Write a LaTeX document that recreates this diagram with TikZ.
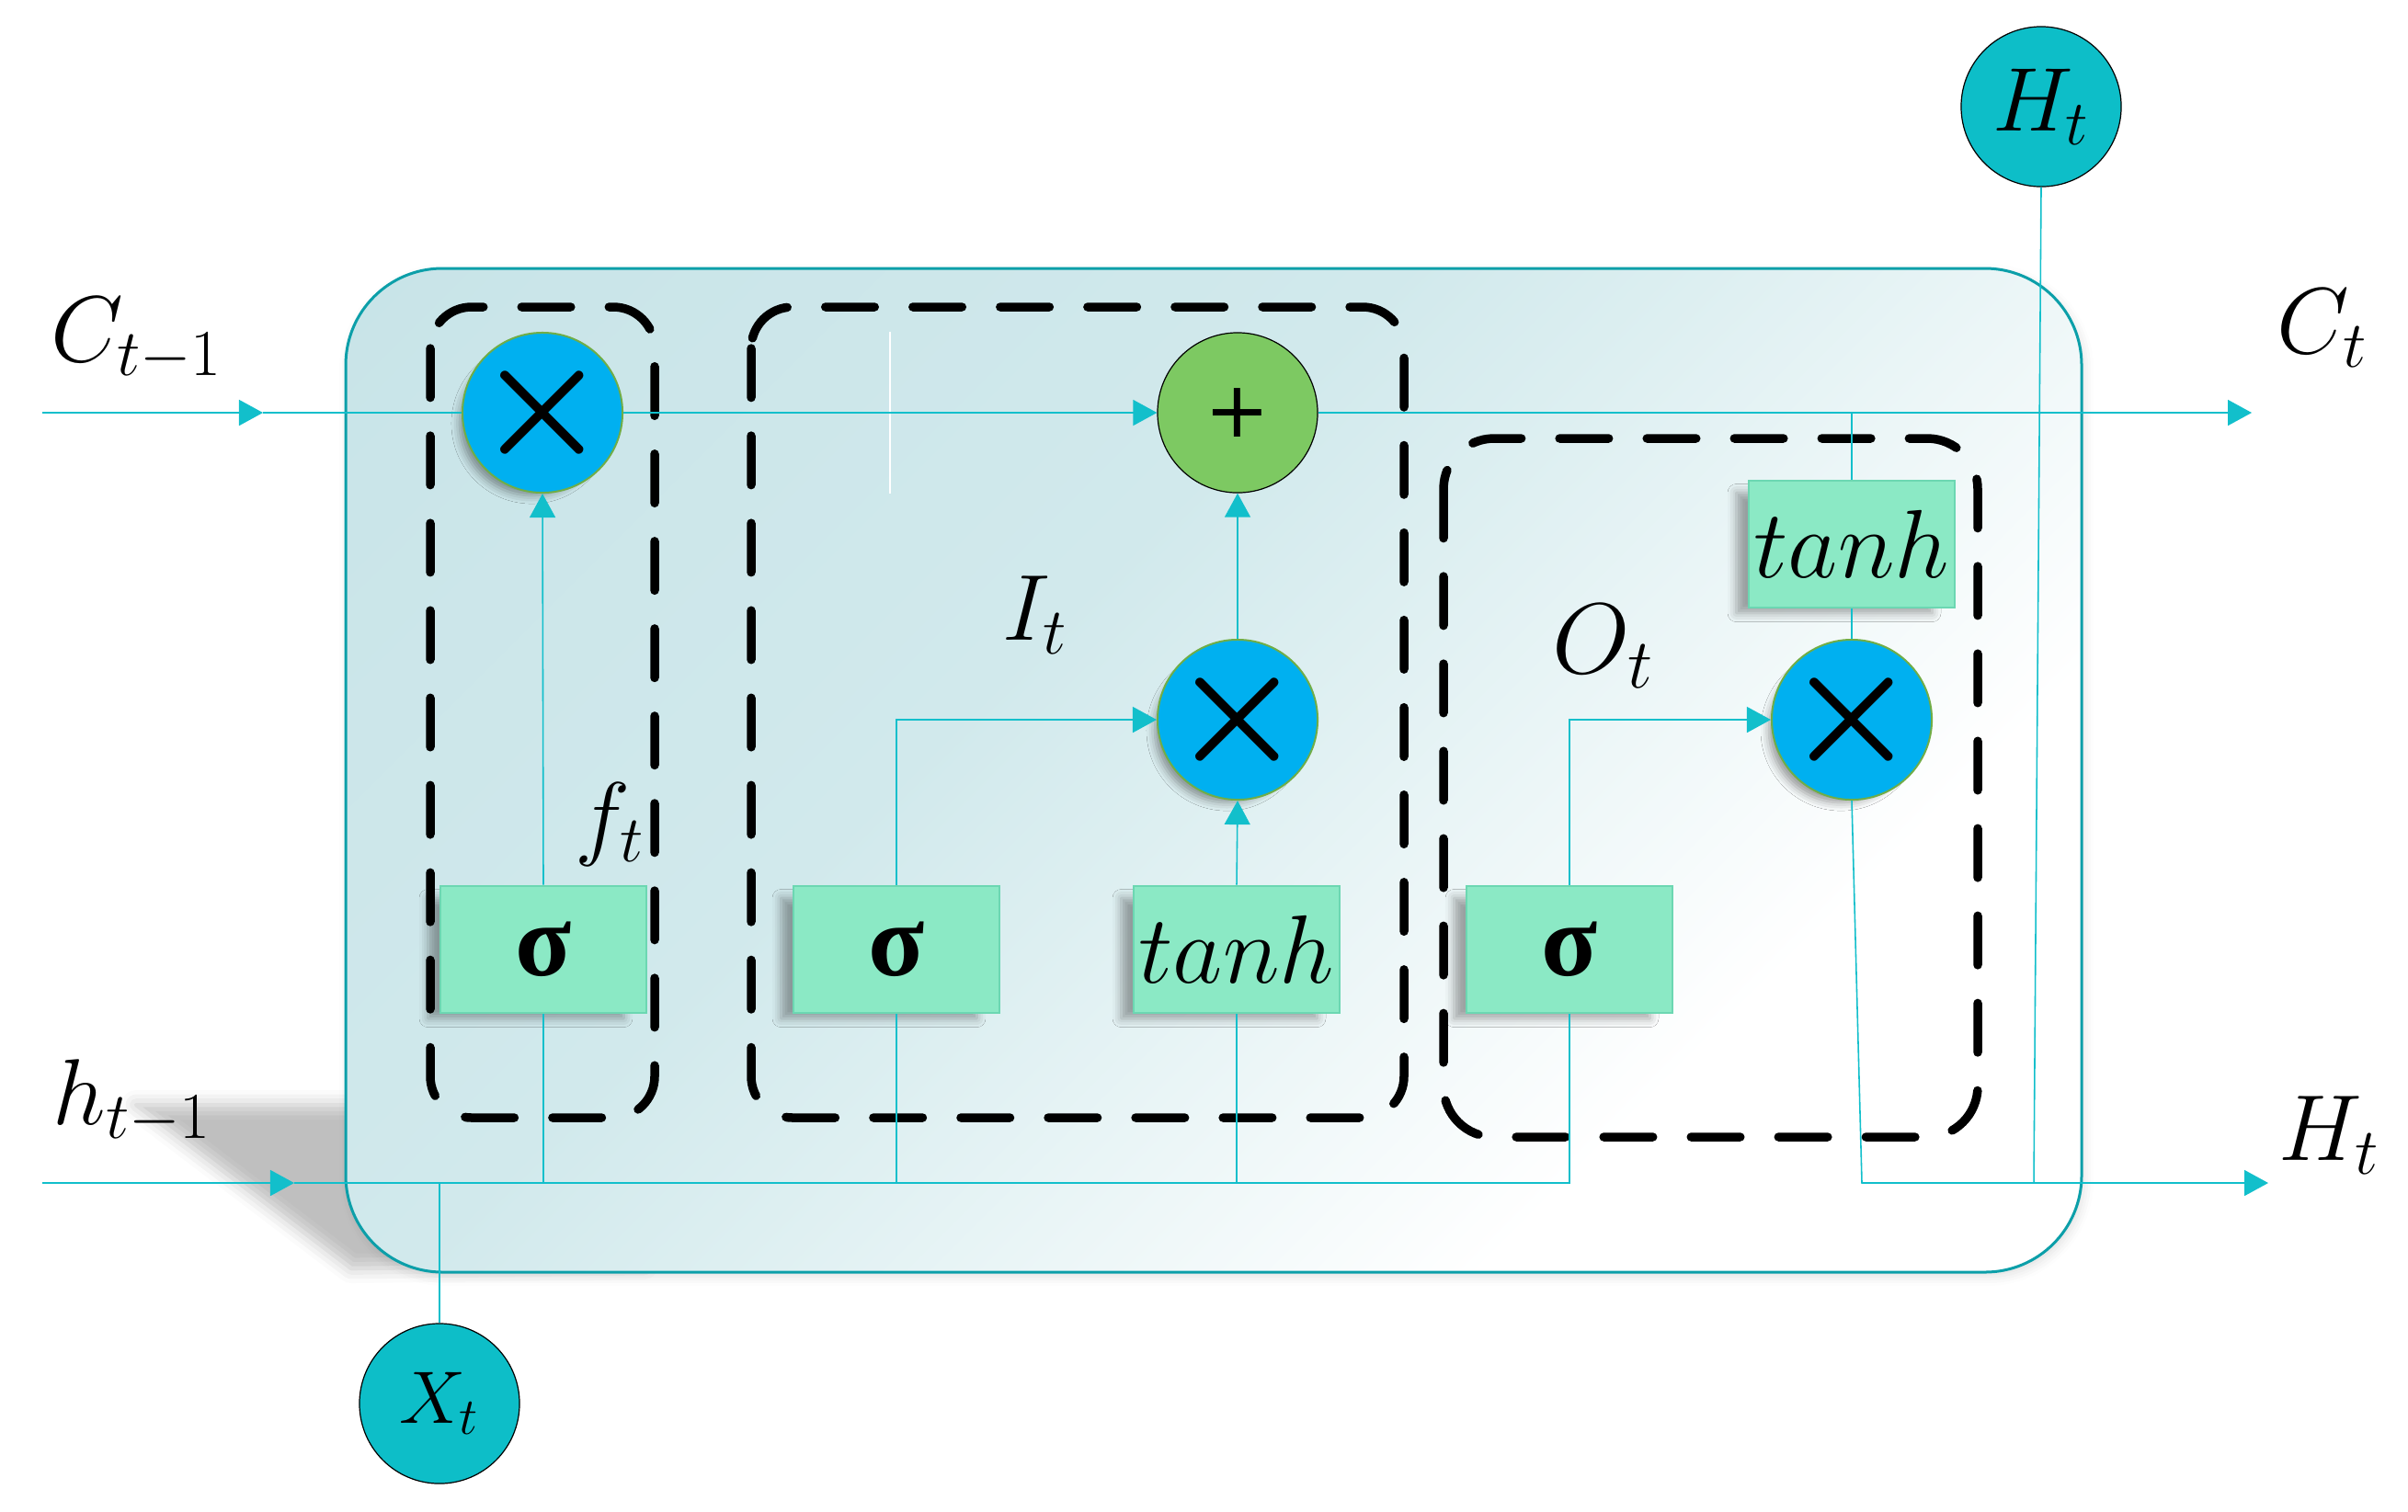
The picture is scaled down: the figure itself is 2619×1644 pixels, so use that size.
\RequirePackage{fix-cm}
\documentclass[tikz,border=0pt]{standalone}
\usepackage{fontspec}
\newfontfamily\sigfont{Liberation Serif}
\newfontfamily\plusfont{DejaVu Sans}
\usetikzlibrary{arrows.meta,shadows.blur}
\definecolor{wirec}{HTML}{12BFCB}
\definecolor{cellborder}{HTML}{0C9FA9}
\definecolor{mulfill}{HTML}{00B0F0}
\definecolor{mulborder}{HTML}{70AD47}
\definecolor{addfill}{HTML}{7DC962}
\definecolor{iofill}{HTML}{0DBEC8}
\definecolor{gatefill}{HTML}{8BE9C5}
\definecolor{gateborder}{HTML}{6CD7B2}
\definecolor{cA}{HTML}{C8E4E8}
\definecolor{cB}{HTML}{D1E9EC}
\definecolor{cC}{HTML}{DDEFF1}
\definecolor{cD}{HTML}{EEF7F8}
\pgfdeclarehorizontalshading{cellshade}{100bp}{color(0bp)=(cA); color(15bp)=(cA); color(42bp)=(cB); color(50bp)=(cC); color(60bp)=(cD); color(70bp)=(white); color(100bp)=(white)}
\begin{document}
\begin{tikzpicture}[x=0.01cm,y=-0.01cm,
  wire/.style={draw=wirec, line width=0.45pt},
  arr/.style={wire, -{Triangle[length=0.26cm,width=0.28cm]}},
  dashbox/.style={draw=black, line width=0.095cm, line cap=round, dash pattern=on 0.535cm off 0.415cm, rounded corners=0.45cm},
  nodeshadow/.style={blur shadow={shadow xshift=-0.13cm, shadow yshift=-0.13cm, shadow scale=0.9, shadow blur radius=0.1cm, shadow opacity=40}},
  mulnode/.style={circle, minimum size=1.74cm, inner sep=-0.3cm, fill=mulfill, draw=mulborder, line width=0.02cm, nodeshadow, font=\fontsize{46}{46}\selectfont\boldmath},
  addnode/.style={circle, minimum size=1.74cm, inner sep=0pt, fill=addfill, draw=black, line width=0.012cm, font=\plusfont\fontsize{24}{24}\selectfont},
  ionode/.style={circle, minimum size=1.74cm, inner sep=0pt, fill=iofill, draw=black, line width=0.012cm},
  gate/.style={rectangle, minimum width=2.24cm, minimum height=1.38cm, inner sep=0pt, fill=gatefill, draw=gateborder, line width=0.025cm, blur shadow={shadow xshift=-0.2cm, shadow yshift=-0.1cm, shadow scale=0.95, shadow blur radius=0.1cm, shadow opacity=35}},
  sig/.style={font=\sigfont\bfseries\fontsize{32}{32}\selectfont},
  lbl/.style={inner sep=0pt, anchor=base west, font=\fontsize{29}{35}\selectfont}
]
\useasboundingbox (0,0) rectangle (2619,1644);

% perspective shadow of the cell
\path[blur shadow={shadow xshift=0cm, shadow yshift=0cm, shadow blur radius=0.16cm, shadow opacity=25}]
  (148,1202) -- (700,1202) -- (700,1376) -- (382,1380) -- cycle;

% cell
\shadedraw[shading=cellshade, shading angle=-45, draw=cellborder, line width=0.03cm, rounded corners=1.05cm,
  blur shadow={shadow xshift=0.03cm, shadow yshift=-0.05cm, shadow blur radius=0.1cm, shadow opacity=12}]
  (376,292) rectangle (2264,1384);

% gate groups
\draw[dashbox] (468,334) rectangle (712,1216);
\draw[dashbox] (817,334) rectangle (1527,1216);
\draw[dashbox, rounded corners=0.55cm] (1570,477) rectangle (2151,1237);

% faint white line
\draw[white, line width=0.3pt] (968,361) -- (968,537);

% coordinates
\coordinate (cin) at (46,449);
\coordinate (cmid) at (286,449);
\coordinate (cout) at (2449,449);
\coordinate (hin) at (46,1287);
\coordinate (hmid) at (320,1287);
\coordinate (hj) at (2025,1287);
\coordinate (hk) at (2212,1287);
\coordinate (hout) at (2467,1287);

% nodes
\node[mulnode] (m1) at (590,449) {$\times$};
\node[addnode] (p1) at (1346,449) {+};
\node[mulnode] (m2) at (1346,783) {$\times$};
\node[mulnode] (m3) at (2014,783) {$\times$};
\node[gate, sig] (s1) at (591,1033) {σ};
\node[gate, sig] (s2) at (975,1033) {σ};
\node[gate] (t1) at (1345,1033) {\fontsize{30}{30}\selectfont$tanh$};
\node[gate, sig] (s3) at (1707,1033) {σ};
\node[gate] (t2) at (2014,592) {\fontsize{30}{30}\selectfont$tanh$};
\node[ionode] (X) at (478,1527) {\fontsize{23}{23}\selectfont$X_t$};
\node[ionode] (Htop) at (2220,116) {\fontsize{28}{28}\selectfont$H_t$};

% labels
\node[lbl] (lc0) at (55,393) {$C_{t-1}$};
\node[lbl] (lh0) at (57,1223) {$h_{t-1}$};
\node[lbl] (lc1) at (2476,384) {$C_t$};
\node[lbl] (lh1) at (2478,1262) {$H_t$};
\node[lbl] (lf) at (625,922) {$f_t$};
\node[lbl] (li) at (1090,696) {$I_t$};
\node[lbl, font=\fontsize{31}{36}\selectfont] (lo) at (1688,732) {$O_t$};

% connectors
\draw[arr] (cin) -- (cmid);
\draw[wire] (cmid) -- (m1.west);
\draw[arr] (m1.east) -- (p1.west);
\draw[arr] (p1.east) -- (cout);
\draw[arr] (hin) -- (hmid);
\draw[wire] (hmid) -| (s3.south);
\draw[wire] (s1.south) -- (s1.south |- hmid);
\draw[wire] (s2.south) -- (s2.south |- hmid);
\draw[wire] (t1.south) -- (t1.south |- hmid);
\draw[wire] (X.north) -- (X.north |- hmid);
\draw[arr] (s1.north) -- (m1.south);
\draw[arr] (s2.north) |- (m2.west);
\draw[arr] (t1.north) -- (m2.south);
\draw[arr] (m2.north) -- (p1.south);
\draw[arr] (s3.north) |- (m3.west);
\draw[wire] (t2.north) -- (t2.north |- cin);
\draw[wire] (t2.south) -- (m3.north);
\draw[arr] (m3.south) -- (hj) -- (hout);
\draw[wire] (Htop.south) -- (hk);
\end{tikzpicture}
\end{document}
